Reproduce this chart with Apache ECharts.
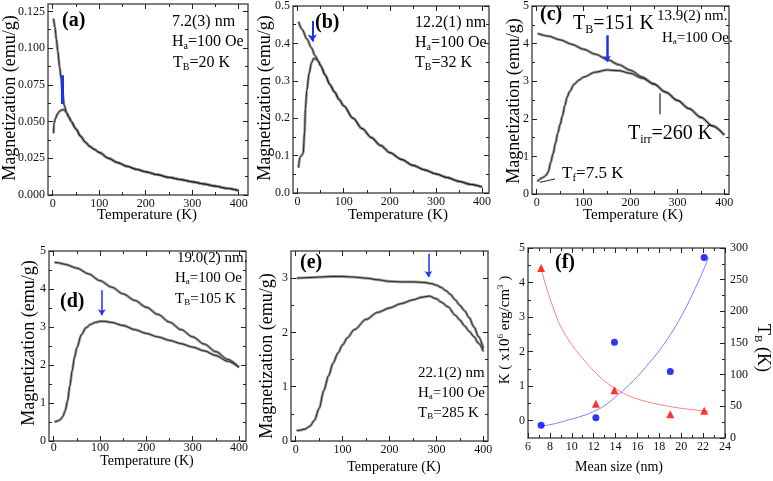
<!DOCTYPE html>
<html><head><meta charset="utf-8">
<script src="https://cdn.jsdelivr.net/npm/echarts@6/dist/echarts.min.js"></script>
<style>html,body{margin:0;padding:0;background:#fff}#c{width:773px;height:481px}</style>
</head><body><div id="c"></div>
<script>
// ---------------- DATA ----------------
// Panel (a) 7.2(3) nm
const aFClow  = [[2,0.120],[5,0.114],[8,0.106],[11,0.098],[15,0.087],[18,0.080],[21,0.070],[25,0.061],[30,0.056]];
const aZFClow = [[2,0.042],[3,0.049],[6,0.052],[10,0.055],[15,0.057],[20,0.058],[25,0.058],[30,0.056]];
const aTail   = [[35,0.053],[40,0.050],[50,0.045],[60,0.040],[70,0.036],[80,0.033],[90,0.031],[100,0.029],[120,0.025],[140,0.022],[160,0.0195],[180,0.0175],[200,0.0158],[225,0.0138],[250,0.012],[275,0.0105],[300,0.009],[325,0.0075],[350,0.006],[375,0.0045],[400,0.003]];
// Panel (b) 12.2(1) nm
const bFClow  = [[2,0.458],[10,0.437],[20,0.412],[30,0.388],[38,0.367],[45,0.352]];
const bZFClow = [[2,0.068],[5,0.095],[8,0.100],[12,0.106],[15,0.16],[17,0.225],[20,0.275],[25,0.32],[30,0.348],[35,0.36],[40,0.358],[45,0.352]];
const bTail   = [[50,0.340],[60,0.315],[70,0.290],[80,0.270],[90,0.250],[100,0.233],[120,0.200],[140,0.172],[160,0.148],[180,0.127],[200,0.108],[225,0.090],[250,0.074],[275,0.062],[300,0.051],[325,0.041],[350,0.031],[375,0.023],[400,0.016]];
// Panel (c) 13.9(2) nm
const cFC  = [[2,4.27],[25,4.2],[50,4.1],[75,3.98],[100,3.85],[125,3.72],[150,3.58],[175,3.44],[200,3.29],[225,3.11],[250,2.92],[275,2.71],[300,2.49],[325,2.27],[350,2.04],[375,1.81],[400,1.57]];
const cZFC = [[2,0.33],[5,0.38],[10,0.42],[15,0.45],[20,0.5],[25,0.6],[30,0.85],[35,1.07],[40,1.35],[45,1.62],[50,1.85],[55,2.08],[60,2.35],[65,2.58],[70,2.72],[80,2.92],[90,3.03],[100,3.11],[125,3.24],[150,3.3],[175,3.28],[200,3.21],[225,3.08],[250,2.93],[275,2.71],[300,2.49],[325,2.27],[350,2.04],[375,1.81],[400,1.57]];
// Panel (d) 19.0(2) nm
const dFC  = [[2,4.70],[10,4.69],[25,4.65],[50,4.55],[75,4.4],[100,4.22],[125,4.05],[150,3.87],[175,3.7],[200,3.52],[225,3.33],[250,3.13],[275,2.93],[300,2.74],[325,2.55],[350,2.35],[375,2.15],[400,1.94]];
const dZFC = [[2,0.5],[10,0.53],[15,0.57],[20,0.65],[25,0.8],[30,1.05],[35,1.45],[40,1.85],[45,2.2],[50,2.45],[60,2.8],[70,2.98],[80,3.07],[90,3.12],[100,3.15],[110,3.15],[125,3.12],[150,3.04],[175,2.93],[200,2.83],[225,2.74],[250,2.65],[275,2.56],[300,2.47],[325,2.37],[350,2.25],[375,2.1],[400,1.94]];
// Panel (e) 22.1(2) nm
const eFC  = [[2,3.0],[25,3.01],[50,3.02],[75,3.03],[100,3.03],[125,3.02],[150,3.0],[175,2.97],[200,2.94],[225,2.93],[250,2.93],[275,2.92],[290,2.9],[300,2.87],[310,2.83],[320,2.77],[330,2.7],[340,2.6],[350,2.5],[360,2.4],[370,2.27],[380,2.1],[390,1.92],[400,1.7]];
const eZFC = [[2,0.19],[10,0.2],[20,0.22],[30,0.27],[40,0.38],[50,0.6],[60,0.93],[70,1.2],[80,1.44],[90,1.62],[100,1.77],[110,1.9],[125,2.05],[150,2.24],[175,2.37],[200,2.45],[225,2.53],[250,2.6],[270,2.65],[285,2.67],[300,2.62],[310,2.56],[325,2.47],[340,2.32],[350,2.23],[360,2.12],[370,2.02],[380,1.92],[390,1.8],[400,1.65]];
// Panel (f)
const fSize = [7.2, 12.2, 13.9, 19.0, 22.1];
const fTB   = [20, 32, 151, 105, 285];
const fK    = [4.42, 0.49, 0.88, 0.19, 0.29];
const fTBfit = [[7.2,19],[8,21],[9,25],[10,30],[11,35],[12,42],[13,51],[14,65],[15,80],[16,97],[17,117],[18,138],[19,163],[20,192],[21,226],[22,264],[22.5,285]];
const fKfit  = [[7.2,4.42],[7.5,4.05],[8,3.55],[8.5,3.1],[9,2.72],[10,2.2],[11,1.8],[12,1.45],[13,1.15],[14,0.93],[15,0.75],[16,0.63],[17,0.54],[18,0.47],[19,0.41],[20,0.36],[21,0.32],[22,0.28],[22.5,0.27]];
// Annotation marks (data coordinates)
const aArrow = [[20,0.0815],[20,0.062]];
const bArrow = [[32,0.46],[32,0.405]];
const cArrow = [[150,4.22],[150,3.52]];
const cTirr  = [[262,2.68],[262,2.12]];
const cTf    = [[39,0.40],[7,0.31]];
const dArrow = [[104,3.97],[104,3.31]];
const eArrow = [[283,3.45],[283,3.02]];
// Ticks
const tMajor = [0,100,200,300,400], tMinor = [50,150,250,350];
const aYMajor = [0,0.025,0.05,0.075,0.1,0.125], aYMinor = [0.0125,0.0375,0.0625,0.0875,0.1125];
const bYMajor = [0,0.1,0.2,0.3,0.4,0.5], bYMinor = [0.05,0.15,0.25,0.35,0.45];
const cdYMajor = [0,1,2,3,4,5], cdYMinor = [0.5,1.5,2.5,3.5,4.5];
const eYMajor = [0,1,2,3], eYMinor = [0.5,1.5,2.5];
const fXMajor = [6,8,10,12,14,16,18,20,22,24], fXMinor = [7,9,11,13,15,17,19,21,23];
const fYLMajor = [0,1,2,3,4,5], fYLMinor = [0.5,1.5,2.5,3.5,4.5];
const fYRMajor = [0,50,100,150,200,250,300], fYRMinor = [25,75,125,175,225,275];

// ---------------- BUILD ----------------
const FONT = 'Liberation Serif';
const option = {animation:false, backgroundColor:'#fff', textStyle:{fontFamily:FONT}, grid:[], xAxis:[], yAxis:[], series:[], graphic:[]};

function tickAxis(list, gi, pos, rng, vals, len, lab){
  const ax = {type:'value', gridIndex:gi, position:pos, min:rng[0], max:rng[1], offset:0,
    axisLine:{show:false, onZero:false}, splitLine:{show:false},
    axisTick:{show:true, inside:true, length:len, customValues:vals, lineStyle:{color:'#222', width:1}},
    axisLabel:{show:false}};
  if (lab) ax.axisLabel = Object.assign({show:true, customValues:vals, fontFamily:FONT, fontSize:12, color:'#111', margin:3}, lab);
  list.push(ax); return list.length-1;
}
function panel(box, xr, yr, xMaj, xMin, yMaj, yMin, xFmt, yFmt, xm, yr2, y2Maj, y2Min){
  option.grid.push({left:box[0], top:box[1], width:box[2], height:box[3], show:true, borderColor:'#555', borderWidth:1.5, backgroundColor:'transparent'});
  const gi = option.grid.length-1;
  const X = option.xAxis, Y = option.yAxis;
  const xi = tickAxis(X, gi, 'bottom', xr, xMaj, 5, {formatter:xFmt, margin:xm});
  tickAxis(X, gi, 'bottom', xr, xMin, 3);
  tickAxis(X, gi, 'top', xr, xMaj, 5);
  tickAxis(X, gi, 'top', xr, xMin, 3);
  const yi = tickAxis(Y, gi, 'left', yr, yMaj, 5, {formatter:yFmt});
  tickAxis(Y, gi, 'left', yr, yMin, 3);
  let yi2;
  if (yr2){
    yi2 = tickAxis(Y, gi, 'right', yr2, y2Maj, 5, {formatter:v=>String(v), margin:5});
    tickAxis(Y, gi, 'right', yr2, y2Min, 3);
  } else {
    tickAxis(Y, gi, 'right', yr, yMaj, 5);
    tickAxis(Y, gi, 'right', yr, yMin, 3);
  }
  return {xi, yi, yi2};
}
function curve(p, data, marks){
  option.series.push({type:'line', xAxisIndex:p.xi, yAxisIndex:p.yi, data, symbol:'none', smooth:0.3, smoothMonotone:'x', lineStyle:{color:'#999', width:2.8}, z:2, silent:true});
  const s = {type:'line', xAxisIndex:p.xi, yAxisIndex:p.yi, data, symbol:'none', smooth:0.3, smoothMonotone:'x', lineStyle:{color:'#1a1a1a', width:0.9}, z:3, silent:true};
  if (marks) s.markLine = {silent:true, animation:false, label:{show:false}, data:marks.map(m=>[
      {coord:m.pts[0], symbol:'none', lineStyle:m.style},
      {coord:m.pts[1], symbol:m.head?'arrow':'none', symbolSize:m.head||0}])};
  option.series.push(s);
}
const blue = w => ({color:'#2030f0', width:w, type:'solid'});
const f1 = v => String(v);

// (a)
const pa = panel([48,4,200,191], [-10,420], [0,0.13], tMajor, tMinor, aYMajor, aYMinor, f1, v=>v.toFixed(3), 3);
curve(pa, aFClow.concat(aTail), [{pts:aArrow, style:blue(3)}]);
curve(pa, aZFClow.concat(aTail));
// (b)
const pb = panel([293,5,196,188], [-10,415], [0,0.5], tMajor, tMinor, bYMajor, bYMinor, f1, v=>v.toFixed(1), 3);
curve(pb, bFClow.concat(bTail), [{pts:bArrow, style:blue(2), head:7}]);
curve(pb, bZFClow.concat(bTail));
// (c)
const pc = panel([532,5,197,189], [-10,410], [0,5], tMajor, tMinor, cdYMajor, cdYMinor, f1, f1, 3);
curve(pc, cFC, [{pts:cArrow, style:blue(2.5), head:6},{pts:cTirr, style:{color:'#777',width:2,type:'solid'}},{pts:cTf, style:{color:'#222',width:1,type:'solid'}}]);
curve(pc, cZFC);
// (d)
const pd = panel([49,251,197,190], [-10,415], [0,5], tMajor, tMinor, cdYMajor, cdYMinor, f1, f1, 1);
curve(pd, dFC, [{pts:dArrow, style:blue(1.5), head:6}]);
curve(pd, dZFC);
// (e)
const pe = panel([291,251,197,190], [-10,410], [0,3.5], tMajor, tMinor, eYMajor, eYMinor, f1, f1, 3);
curve(pe, eFC, [{pts:eArrow, style:blue(1.5), head:6}]);
curve(pe, eZFC);
// (f)
const pf = panel([528,248,197,190], [6,24], [-0.5,5], fXMajor, fXMinor, fYLMajor, fYLMinor, f1, f1, 3, [0,300], fYRMajor, fYRMinor);
option.series.push({type:'line', xAxisIndex:pf.xi, yAxisIndex:pf.yi, data:fKfit, symbol:'none', smooth:0.4, lineStyle:{color:'#ff8080', width:1}, silent:true});
option.series.push({type:'line', xAxisIndex:pf.xi, yAxisIndex:pf.yi2, data:fTBfit, symbol:'none', smooth:0.4, lineStyle:{color:'#8080ff', width:1}, silent:true});
option.series.push({type:'scatter', xAxisIndex:pf.xi, yAxisIndex:pf.yi, data:fSize.map((s,i)=>[s,fK[i]]), symbol:'triangle', symbolSize:8, itemStyle:{color:'#ff0000'}, z:5, silent:true});
option.series.push({type:'scatter', xAxisIndex:pf.xi, yAxisIndex:pf.yi2, data:fSize.map((s,i)=>[s,fTB[i]]), symbol:'circle', symbolSize:7, itemStyle:{color:'#0000ff'}, z:5, silent:true});

// ---------------- TEXT ----------------
function txt(x, y, text, size, o){
  o = o || {};
  const P = Math.round(size*0.55);
  const sm = Math.round(size*0.62);
  option.graphic.push({type:'text', x, y, rotation:o.rot||0, z:100, silent:true,
    style:{text, fontFamily:FONT, fontSize:size, fontWeight:o.bold?'bold':'normal', fill:'#000',
      align:o.align||'left', verticalAlign:'middle',
      rich:{
        n:{fontFamily:FONT, fontSize:size, fontWeight:o.bold?'bold':'normal', verticalAlign:'middle'},
        s:{fontFamily:FONT, fontSize:sm, verticalAlign:'middle', padding:[P,0,0,0]},
        p:{fontFamily:FONT, fontSize:sm, verticalAlign:'middle', padding:[0,0,P,0]}
      }}});
}
// panel letters
txt(62,21,'{n|(a)}',20,{bold:true});
txt(315,23,'{n|(b)}',20,{bold:true});
txt(540,15,'{n|(c)}',20,{bold:true});
txt(60,302,'{n|(d)}',20,{bold:true});
txt(300,263,'{n|(e)}',20,{bold:true});
txt(555,263,'{n|(f)}',20,{bold:true});
// (a)
txt(172,22,'{n|7.2(3) nm}',16);
txt(172,42,'{n|H}{s|a}{n|=100 Oe}',16);
txt(173,63,'{n|T}{s|B}{n|=20 K}',16);
// (b)
txt(415,23,'{n|12.2(1) nm}',16);
txt(415,43,'{n|H}{s|a}{n|=100 Oe}',16);
txt(415,63,'{n|T}{s|B}{n|=32 K}',16);
// (c)
txt(573,24,'{n|T}{s|B}{n|=151 K}',20);
txt(657,16,'{n|13.9(2) nm.}',15);
txt(662,38,'{n|H}{s|a}{n|=100 Oe.}',15);
txt(628,134,'{n|T}{s|irr}{n|=260 K}',20);
txt(562,174,'{n|T}{s|f}{n|=7.5 K}',17);
// (d)
txt(177,258,'{n|19.0(2) nm.}',15);
txt(175,278,'{n|H}{s|a}{n|=100 Oe}',15);
txt(175,299,'{n|T}{s|B}{n|=105 K}',15);
// (e)
txt(418,373,'{n|22.1(2) nm}',15);
txt(418,393,'{n|H}{s|a}{n|=100 Oe}',15);
txt(418,413,'{n|T}{s|B}{n|=285 K}',15);
// axis titles
const xT = '{n|Temperature (K)}', yT = '{n|Magnetization (emu/g)}';
txt(147,215,xT,15,{align:'center'});
txt(398,215,xT,15,{align:'center'});
txt(633,215,xT,15,{align:'center'});
txt(147,461,xT,14,{align:'center'});
txt(394,467,xT,14,{align:'center'});
txt(619,467,'{n|Mean size (nm)}',14,{align:'center'});
txt(10,98,yT,18,{align:'center',rot:Math.PI/2});
txt(265,98,yT,18,{align:'center',rot:Math.PI/2});
txt(514,101,yT,18,{align:'center',rot:Math.PI/2});
txt(29,343,yT,18,{align:'center',rot:Math.PI/2});
txt(267,356,yT,18,{align:'center',rot:Math.PI/2});
txt(505,330,'{n|K ( x10}{p|6}{n| erg/cm}{p|3}{n| )}',15,{align:'center',rot:Math.PI/2});
txt(763,348,'{n|T}{s|B}{n| (K)}',18,{align:'center',rot:-Math.PI/2});

const chart = echarts.init(document.getElementById('c'), null, {renderer:'canvas'});
chart.setOption(option);
</script></body></html>
